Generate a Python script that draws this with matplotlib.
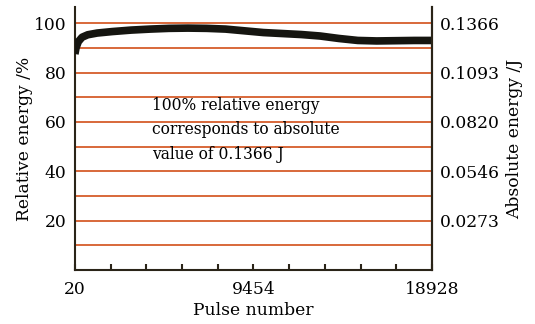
import numpy as np
import matplotlib.pyplot as plt

# values
pulse = [20, 80, 200, 400, 700, 1200, 2000, 3000, 4000, 5000, 6000, 7000, 8000,
         9000, 10000, 11000, 12000, 13000, 14000, 15000, 16000, 17000, 18000, 18928]
rel_energy = [87.5, 90.0, 92.5, 94.3, 95.3, 96.0, 96.6, 97.2, 97.6, 97.9, 98.0, 97.9, 97.6,
              96.9, 96.2, 95.8, 95.4, 94.8, 93.8, 93.0, 92.8, 92.9, 93.0, 93.0]

grid_levels = [10, 20, 30, 40, 50, 60, 70, 80, 90, 100]
left_ticks = [20, 40, 60, 80, 100]
right_ticks = [20, 40, 60, 80, 100]
right_labels = ["0.0273", "0.0546", "0.0820", "0.1093", "0.1366"]
x_ticks = np.linspace(20, 18928, 11)
x_labels = ["20", "", "", "", "", "9454", "", "", "", "", "18928"]

plt.rcParams['font.family'] = ['DejaVu Serif', 'Liberation Serif']
plt.rcParams['font.size'] = 12.3

fig = plt.figure(figsize=(5.35, 3.24), dpi=100)
ax = fig.add_axes([0.140, 0.1667, 0.6675, 0.8113])

for lv in grid_levels:
    ax.axhline(lv, color='#d8683a', lw=1.4, zorder=1)

ax.plot(pulse, rel_energy, color='#151510', lw=5.5, solid_capstyle='butt', zorder=3)

ax.set_xlim(20, 18928)
ax.set_ylim(0, 106.5)
ax.set_xticks(x_ticks)
ax.set_xticklabels(x_labels)
ax.set_yticks(left_ticks)
ax.tick_params(axis='x', direction='in', length=4, width=1.5, color='#2a2418', pad=8)
ax.tick_params(axis='y', length=0, pad=6)
ax.set_xlabel("Pulse number", labelpad=3)
ax.set_ylabel("Relative energy /%", labelpad=1)

for side in ['left', 'bottom', 'right']:
    ax.spines[side].set_color('#2a2418')
    ax.spines[side].set_linewidth(1.5)
ax.spines['top'].set_visible(False)

ax2 = ax.twinx()
ax2.set_ylim(ax.get_ylim())
ax2.set_yticks(right_ticks)
ax2.set_yticklabels(right_labels)
ax2.tick_params(axis='y', length=0, pad=6)
ax2.set_ylabel("Absolute energy /J", labelpad=4)
for side in ['top', 'left', 'bottom']:
    ax2.spines[side].set_visible(False)
ax2.spines['right'].set_color('#2a2418')
ax2.spines['right'].set_linewidth(1.5)

ax.text(0.215, 0.66, "100% relative energy\ncorresponds to absolute\nvalue of 0.1366 J",
        transform=ax.transAxes, ha='left', va='top', fontsize=11.2, linespacing=1.6)

fig.savefig("out.png", dpi=100)
